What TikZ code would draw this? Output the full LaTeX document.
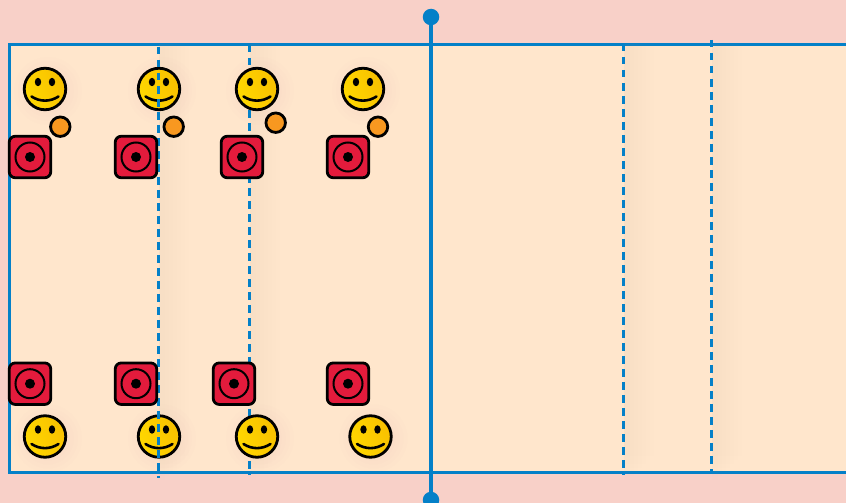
\documentclass[tikz,border=0pt]{standalone}
\definecolor{pagebg}{HTML}{F8D0C8}
\definecolor{courtbg}{HTML}{FFE6CC}
\definecolor{lineblue}{HTML}{0480C8}
\definecolor{softpink}{HTML}{F2A090}
\definecolor{ballorange}{HTML}{F89820}
\definecolor{padred}{HTML}{E31B3C}
\definecolor{ffaceL}{HTML}{FFD800}
\definecolor{ffaceR}{HTML}{F8C000}
\tikzset{
  court/.style={draw=lineblue,line width=3pt,fill=courtbg},
  dashline/.style={draw=lineblue,line width=3pt,dash pattern=on 7.5pt off 5.5pt},
  netline/.style={draw=lineblue,line width=4.2pt},
  netdot/.style={circle,fill=lineblue,inner sep=0pt,minimum size=16.5pt},
  ballnode/.style={circle,draw=black,line width=2.8pt,fill=ballorange,inner sep=0pt,minimum size=19.5pt},
  padnode/.style={rectangle,rounded corners=6pt,draw=black,line width=2.8pt,fill=padred,inner sep=0pt,minimum size=41.5pt},
  facenode/.style={circle,draw=black,line width=2.8pt,left color=ffaceL,right color=ffaceR,shading angle=110,inner sep=0pt,minimum size=41.5pt},
}
\newcommand{\softblob}[1]{%
  \foreach \r in {10,14,18,22,26,30,34}{\fill[softpink,opacity=0.016] (#1)++(3,2) circle[radius=\r];}
}
\newcommand{\softband}[1]{%
  \foreach \w/\e in {6/436,10/432,14/428,18/424,22/420,26/416,30/412}{\fill[softpink,opacity=0.012] (#1,44) rectangle ++(\w,\e);}
}
\newcommand{\smiley}[3]{% name, x, y
  \node[facenode] (#1) at (#2,#3) {};
  \fill[black] (#2-7,#3-7) ellipse[x radius=3.2,y radius=4.2];
  \fill[black] (#2+7,#3-7) ellipse[x radius=3.2,y radius=4.2];
  \draw[black,line width=2.6pt,line cap=round] (#2-13.5,#3+7.5) .. controls (#2-5,#3+13) and (#2+5,#3+13) .. (#2+13.5,#3+7.5);
}
\newcommand{\pad}[3]{% name, x, y
  \node[padnode] (#1) at (#2,#3) {};
  \draw[black,line width=2pt] (#2,#3) circle[radius=14.5];
  \fill[black] (#2,#3) circle[radius=5];
}
\begin{document}
\begin{tikzpicture}[x=1pt,y=-1pt]
\useasboundingbox (0,0) rectangle (846,503);
\clip (0,0) rectangle (846,503);
\fill[pagebg] (0,0) rectangle (846,503);
\path[court] (9,44.5) rectangle (860,472.5);
\softband{159}\softband{250}\softband{624}\softband{712}
\foreach \x/\y in {45/89,159/89,257/89,363/89,45/436.5,159/436.5,257/436.5,370.5/436.5}{\softblob{\x,\y}}
% dashed lines under the markers
\coordinate (d2t) at (249.5,45); \coordinate (d2b) at (249.5,475);
\coordinate (d3t) at (623,44); \coordinate (d3b) at (623,475);
\coordinate (d4t) at (711,40); \coordinate (d4b) at (711,472);
\coordinate (d1t) at (158.5,47); \coordinate (d1b) at (158.5,478);
\draw[dashline] (d2t) -- (d2b);
\draw[dashline] (d3t) -- (d3b);
\draw[dashline] (d4t) -- (d4b);
% players
\smiley{s1}{45}{89}\smiley{s2}{159}{89}\smiley{s3}{257}{89}\smiley{s4}{363}{89}
\smiley{s5}{45}{436.5}\smiley{s6}{159}{436.5}\smiley{s7}{257}{436.5}\smiley{s8}{370.5}{436.5}
\draw[dashline] (d1t) -- (d1b);
% pads
\pad{p1}{30}{157}\pad{p2}{136}{157}\pad{p3}{242}{157}\pad{p4}{348}{157}
\pad{p5}{30}{383.7}\pad{p6}{136}{383.7}\pad{p7}{234}{383.7}\pad{p8}{348}{383.7}
% balls
\node[ballnode] (b1) at (60.3,126.7) {};
\node[ballnode] (b2) at (173.7,126.7) {};
\node[ballnode] (b3) at (275.7,122.7) {};
\node[ballnode] (b4) at (378,126.7) {};
% net
\node[netdot] (nt) at (431,17) {};
\node[netdot] (nb) at (431,500) {};
\draw[netline] (nt) -- (nb);
\end{tikzpicture}
\end{document}
